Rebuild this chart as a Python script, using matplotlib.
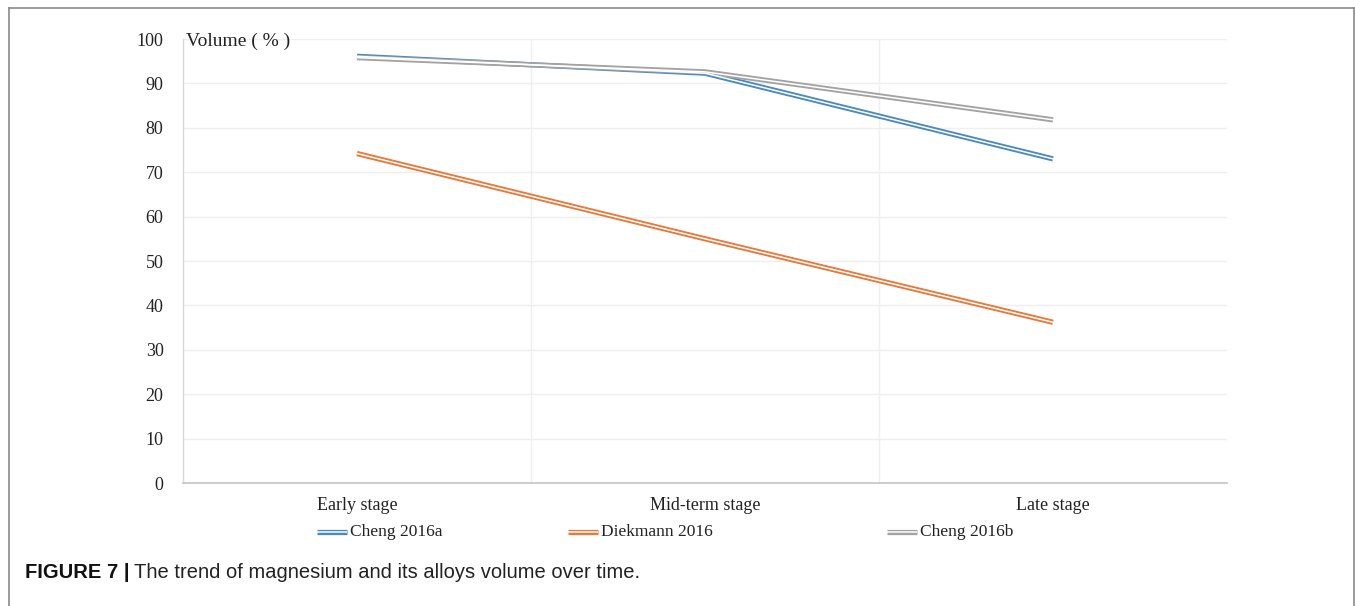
import matplotlib
matplotlib.use("Agg")
import matplotlib.pyplot as plt
from matplotlib.lines import Line2D
import numpy as np

# Data
stages = ["Early stage", "Mid-term stage", "Late stage"]
series_names = ["Cheng 2016a", "Diekmann 2016", "Cheng 2016b"]
cheng_2016a = [96.1, 92.3, 73.0]
diekmann_2016 = [74.2, 55.0, 36.2]
cheng_2016b = [95.8, 92.6, 81.8]
y_ticks = [0, 10, 20, 30, 40, 50, 60, 70, 80, 90, 100]

colors = ["#4a8bbd", "#e8793a", "#a3a3a3"]
values = [cheng_2016a, diekmann_2016, cheng_2016b]

W, H = 1355, 606
fig = plt.figure(figsize=(W / 100, H / 100), dpi=100)
fig.patch.set_facecolor("white")

serif = ["Liberation Serif", "DejaVu Serif"]
sans = ["Liberation Sans", "DejaVu Sans"]

# Plot area
left, right = 183 / W, 1227 / W
bottom, top = 1 - 483 / H, 1 - 39 / H
ax = fig.add_axes([left, bottom, right - left, top - bottom])

x = np.arange(len(stages))
ax.set_xlim(-0.5, len(stages) - 0.5)
ax.set_ylim(0, 100)

# Double-stroke lines: a coloured band with a white core
for vals, c in zip(values, colors):
    ax.plot(x, vals, color=c, lw=3.8, solid_capstyle="butt", zorder=3)
    ax.plot(x, vals, color="white", lw=1.1, solid_capstyle="butt", zorder=4)

# Gridlines
for yv in y_ticks[1:]:
    ax.axhline(yv, color="#efefef", lw=1.0, zorder=1)
for b in np.arange(0.5, len(stages) - 0.5, 1.0):
    ax.axvline(b, color="#efefef", lw=1.0, zorder=1)

ax.set_yticks(y_ticks)
ax.set_yticklabels([str(t) for t in y_ticks], fontfamily=serif, fontsize=13, color="#222222")
ax.set_xticks(x)
ax.set_xticklabels(stages, fontfamily=serif, fontsize=13, color="#222222")
ax.tick_params(axis="y", length=0, pad=14)
ax.tick_params(axis="x", length=0, pad=10)

for s in ["top", "right"]:
    ax.spines[s].set_visible(False)
ax.spines["left"].set_color("#d9d9d9")
ax.spines["left"].set_linewidth(1.0)
ax.spines["bottom"].set_color("#c8c8c8")
ax.spines["bottom"].set_linewidth(1.3)

# Axis title inside the plot area
fig.text(186 / W, 1 - 41 / H, "Volume ( % )", fontfamily=serif, fontsize=14,
         color="#222222", ha="left", va="center")

# Legend row
legend_y = 1 - 532 / H
handle_x = [317, 568, 887]
handle_len = 30
for name, c, hx in zip(series_names, colors, handle_x):
    xs = [hx / W, (hx + handle_len) / W]
    fig.add_artist(Line2D(xs, [legend_y, legend_y], color=c, lw=3.8,
                          solid_capstyle="butt", transform=fig.transFigure))
    fig.add_artist(Line2D(xs, [legend_y, legend_y], color="white", lw=1.1,
                          solid_capstyle="butt", transform=fig.transFigure))
    fig.text((hx + handle_len + 3) / W, legend_y, name, fontfamily=serif,
             fontsize=12.5, color="#222222", ha="left", va="center")

# Caption
cap_y = 1 - 573 / H
t1 = fig.text(25 / W, cap_y, "FIGURE 7 |", fontfamily=sans, fontsize=14.5,
              fontweight="bold", color="#111111", ha="left", va="center")
fig.canvas.draw()
bb = t1.get_window_extent()
fig.text((bb.x1 + 5) / W, cap_y, "The trend of magnesium and its alloys volume over time.",
         fontfamily=sans, fontsize=14.5, color="#222222", ha="left", va="center")

# Frame around the figure panel
frame_c = "#8a8a8a"
fig.add_artist(Line2D([9 / W, 9 / W], [0, 1 - 8 / H], color=frame_c, lw=1.2,
                      transform=fig.transFigure))
fig.add_artist(Line2D([9 / W, 1354 / W], [1 - 8 / H, 1 - 8 / H], color=frame_c, lw=1.2,
                      transform=fig.transFigure))
fig.add_artist(Line2D([1353.5 / W, 1353.5 / W], [0, 1 - 8 / H], color=frame_c, lw=1.2,
                      transform=fig.transFigure))

fig.savefig("out.png", dpi=100, facecolor="white")
